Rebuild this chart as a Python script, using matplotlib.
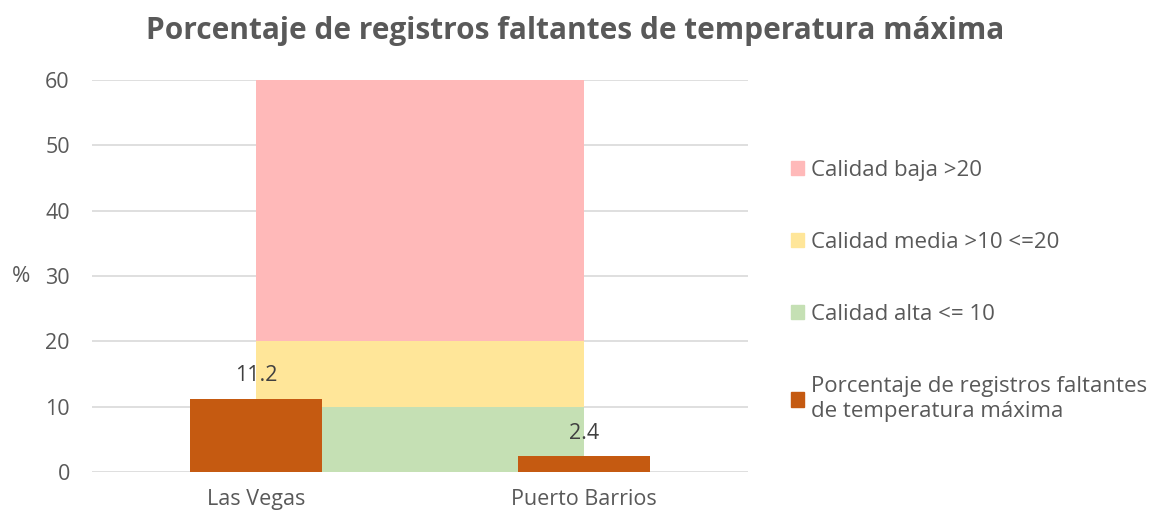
import matplotlib.pyplot as plt
from matplotlib.patches import Patch

# datos
estaciones = ['Las Vegas', 'Puerto Barrios']
faltantes = [11.2, 2.4]
bandas_nombres = ['Calidad alta <= 10', 'Calidad media >10 <=20', 'Calidad baja >20']
bandas_altos = [10, 10, 40]
bandas_colores = ['#C5E0B4', '#FFE699', '#FFB9B9']
serie_nombre = 'Porcentaje de registros faltantes\nde temperatura máxima'
color_serie = '#C55A11'
gris = '#595959'

plt.rcParams['font.family'] = ['Open Sans', 'DejaVu Sans']


def run():
    fig = plt.figure(figsize=(11.53, 5.13), dpi=100)
    ax = fig.add_axes([92 / 1153, 1 - 472 / 513, 656 / 1153, 392 / 513])

    # bandas de calidad (columna apilada entre las dos estaciones)
    base = 0
    for alto, color in zip(bandas_altos, bandas_colores):
        ax.bar(0.5, alto, width=1.0, bottom=base, color=color, zorder=1)
        base += alto

    x = list(range(len(estaciones)))
    barras = ax.bar(x, faltantes, width=0.4, color=color_serie, zorder=3)
    for b, v in zip(barras, faltantes):
        ax.annotate(f'{v}', (b.get_x() + b.get_width() / 2, v),
                    xytext=(0, 9), textcoords='offset points',
                    ha='center', va='bottom', fontsize=15.5, color='#404040')

    ax.set_xlim(-0.5, 1.5)
    ax.set_ylim(0, 60)
    ax.set_yticks(range(0, 61, 10))
    ax.set_xticks(x)
    ax.set_xticklabels(estaciones)
    ax.grid(axis='y', color='#D9D9D9', linewidth=1.2, zorder=0)
    ax.set_axisbelow(True)
    for s in ax.spines.values():
        s.set_visible(False)
    ax.tick_params(axis='both', length=0, labelsize=15.5, labelcolor=gris)
    ax.tick_params(axis='y', pad=16)
    ax.tick_params(axis='x', pad=12)

    fig.text(21 / 1153, 1 - 277 / 513, '%', fontsize=16, color=gris,
             ha='center', va='center')
    fig.text(575 / 1153, 1 - 31 / 513,
             'Porcentaje de registros faltantes de temperatura máxima',
             fontsize=21.5, fontweight='bold', color=gris, ha='center', va='center')

    handles = [Patch(color=bandas_colores[2]), Patch(color=bandas_colores[1]),
               Patch(color=bandas_colores[0]), Patch(color=color_serie)]
    labels = [bandas_nombres[2], bandas_nombres[1], bandas_nombres[0], serie_nombre]
    leg = fig.legend(handles, labels, loc='upper left',
                     bbox_to_anchor=(771 / 1153, 1 - 140 / 513),
                     frameon=False, fontsize=16, handlelength=0.6,
                     handleheight=0.6, handletextpad=0.3, labelspacing=2.3)
    for t in leg.get_texts():
        t.set_color(gris)
        t.set_linespacing(1.25)

    fig.savefig('out.png', dpi=100)


if __name__ == '__main__':
    run()
